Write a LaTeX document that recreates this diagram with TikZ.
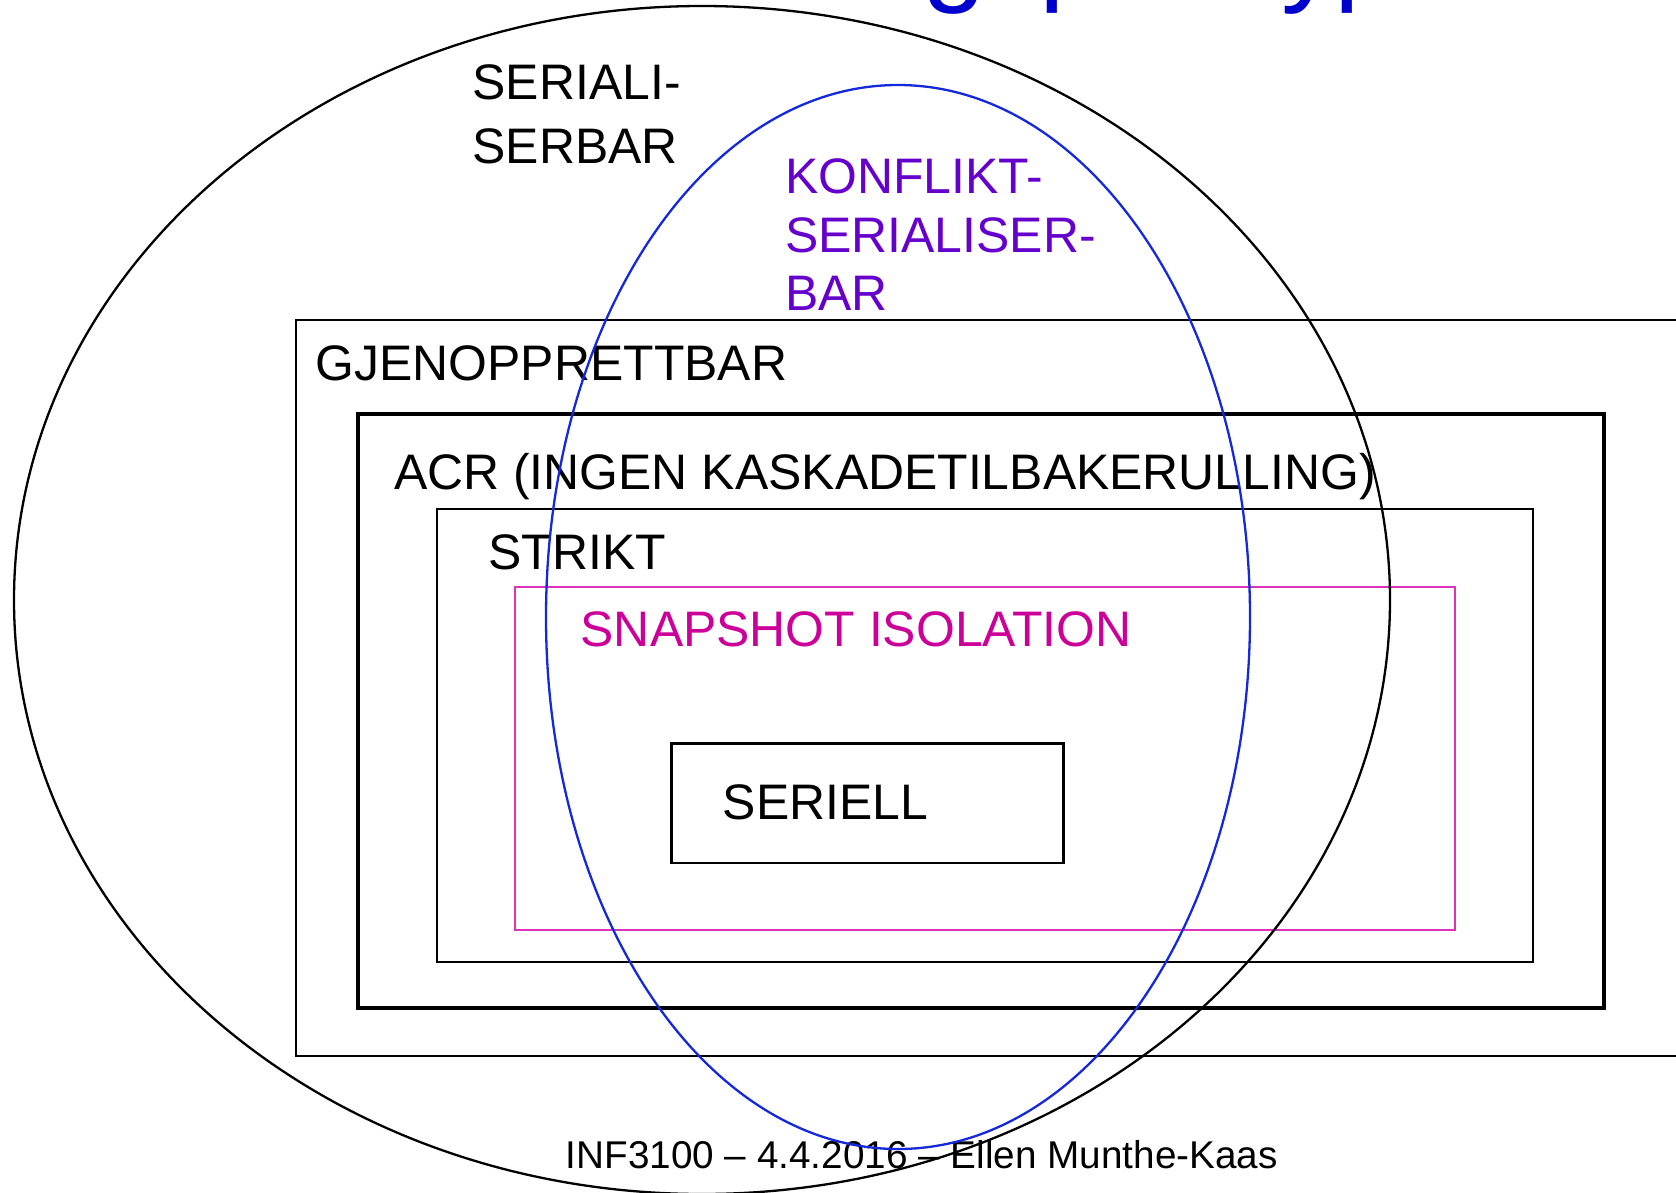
\documentclass[tikz,border=0pt]{standalone}
\usepackage{fontspec}
\setmainfont{Liberation Sans}
\definecolor{ellblue}{RGB}{20,40,220}
\definecolor{titleblue}{RGB}{0,0,204}
\definecolor{konfpurple}{RGB}{102,0,204}
\definecolor{snapmag}{RGB}{204,0,153}
\definecolor{snapline}{RGB}{221,51,187}
\begin{document}
\begin{tikzpicture}[x=1pt,y=-1pt,
  txt/.style={inner sep=0pt, anchor=base west, font=\fontsize{49.9}{59}\selectfont},
  foot/.style={inner sep=0pt, anchor=base west, font=\fontsize{38.7}{46}\selectfont},
  ttl/.style={inner sep=0pt, anchor=base west, text=titleblue, font=\fontsize{115}{130}\selectfont},
  setbox/.style={draw=black, line width=2.3pt}]
\useasboundingbox (0,0) rectangle (1676,1192);
\begin{scope}
\clip (0,0) rectangle (1676,1192);
% cut-off title fragments
\node[ttl] (t1) at (922,-10) {g};
\node[ttl] (t2) at (1039,-11) {p};
\node[ttl] (t3) at (1281,-10) {y};
\node[ttl] (t4) at (1334,-11) {p};
% texts
\node[txt] (s1) at (472.5,99.3) {SERIALI-};
\node[txt] (s2) at (472.5,163.3) {SERBAR};
\node[txt, text=konfpurple] (k1) at (785,193) {KONFLIKT-};
\node[txt, text=konfpurple] (k2) at (785,252) {SERIALISER-};
\node[txt, text=konfpurple] (k3) at (785,310) {BAR};
\node[txt] (gj) at (315.6,380) {GJENOPPRETTBAR};
\node[txt] (acr) at (394,489) {ACR (INGEN KASKADETILBAKERULLING)};
\node[txt] (st) at (488.4,569.3) {STRIKT};
\node[txt, text=snapmag] (sn) at (580.5,646) {SNAPSHOT ISOLATION};
\node[txt] (se) at (722.7,819.3) {SERIELL};
\node[foot] (ft) at (565.5,1168.3) {INF3100 – 4.4.2016 – Ellen Munthe-Kaas};
% set boxes
\draw[line width=1.9pt] (296,320) rectangle (1700,1056);
\draw[line width=3.1pt] (358,414) rectangle (1604,1008);
\draw[setbox] (437,509) rectangle (1533,962);
\draw[draw=snapline, line width=1.7pt] (515,587) rectangle (1455,930);
\draw[setbox] (671.5,743.5) rectangle (1063.5,863);
% ellipses
\draw[line width=2.3pt] (702,600) ellipse [x radius=688pt, y radius=594pt];
\draw[draw=ellblue, line width=2.3pt] (898,617) ellipse [x radius=352pt, y radius=532pt];
\end{scope}
\end{tikzpicture}
\end{document}
